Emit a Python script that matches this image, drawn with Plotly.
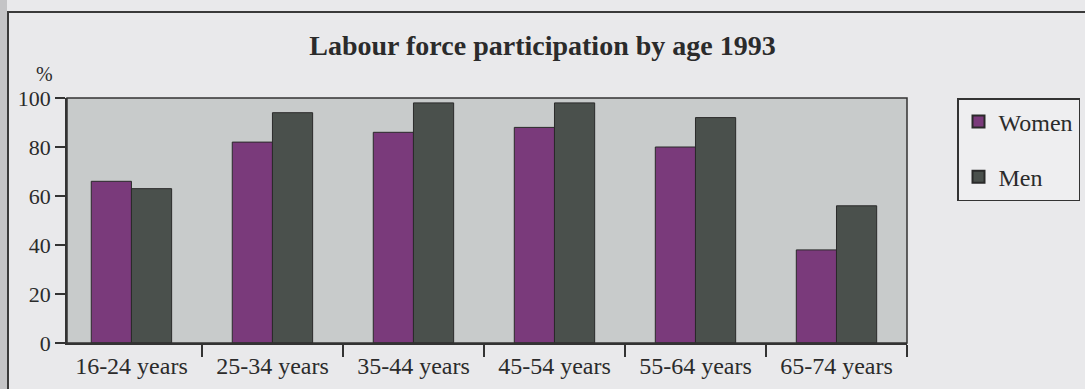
import plotly.graph_objects as go

categories = ["16-24 years", "25-34 years", "35-44 years", "45-54 years", "55-64 years", "65-74 years"]
women = [66, 82, 86, 88, 80, 38]
men = [63, 94, 98, 98, 92, 56]
y_ticks = [0, 20, 40, 60, 80, 100]

FONT = "Liberation Serif"
W, H = 1085, 389
L, R, T, B = 67, 178, 98, 46
PW, PH = W - L - R, H - T - B

fig = go.Figure()
fig.add_trace(go.Bar(x=categories, y=women, name="Women", legendgroup="w",
                     marker=dict(color="#7a3a7b", line=dict(color="#2a2a2a", width=1))))
fig.add_trace(go.Bar(x=categories, y=men, name="Men", legendgroup="m",
                     marker=dict(color="#4a504c", line=dict(color="#2a2a2a", width=1))))

fig.update_layout(
    width=W, height=H,
    margin=dict(l=L, r=R, t=T, b=B, autoexpand=False),
    paper_bgcolor="#e9e9eb",
    plot_bgcolor="#c8cbcb",
    font=dict(family=FONT, size=22, color="#2b2b2b"),
    barmode="group", bargap=0.43, bargroupgap=0,
    title=dict(text="<b>Labour force participation by age 1993</b>", x=0.5, xanchor="center",
               y=1 - 45 / H, yanchor="middle", yref="container",
               font=dict(family=FONT, size=28, color="#2b2b2b")),
    showlegend=True,
    legend=dict(x=(957 - L) / PW, xanchor="left", y=1.0, yanchor="top",
                bgcolor="#eeeef0", bordercolor="#333333", borderwidth=1.5,
                font=dict(family=FONT, size=24, color="#2b2b2b"),
                tracegroupgap=21, traceorder="grouped", itemsizing="constant",
                itemwidth=30),
    xaxis=dict(range=[-0.457, 5.5], showgrid=False, showline=True, linecolor="#333333", linewidth=1.5,
               ticks="outside", tickson="boundaries", ticklen=12, tickcolor="#333333",
               tickwidth=1.5, mirror=False, tickfont=dict(size=24)),
    yaxis=dict(range=[0, 100], tickvals=y_ticks, showgrid=False, showline=True,
               linecolor="#333333", linewidth=1.5, ticks="outside", ticklen=10,
               tickcolor="#333333", tickwidth=1.5, zeroline=False, tickfont=dict(size=22)),
)

# plot frame top/right
fig.add_shape(type="rect", xref="paper", yref="paper", x0=0, x1=1, y0=0, y1=1,
              line=dict(color="#333333", width=1.5), fillcolor="rgba(0,0,0,0)", layer="above")
# outer photo frame
fig.add_shape(type="rect", xref="paper", yref="paper",
              x0=(8 - L) / PW, x1=1.4, y0=-0.5, y1=1 + (T - 12) / PH,
              line=dict(color="#3a3a3a", width=2), fillcolor="rgba(0,0,0,0)", layer="below")
fig.add_shape(type="rect", xref="paper", yref="paper",
              x0=(0 - L) / PW, x1=(7 - L) / PW, y0=-0.5, y1=1.6,
              line=dict(width=0), fillcolor="#c4c4c6", layer="below")
fig.add_annotation(text="%", xref="paper", yref="paper", x=(44 - L) / PW,
                   y=1 + (T - 74) / PH, showarrow=False, xanchor="center", yanchor="middle",
                   font=dict(family=FONT, size=20, color="#2b2b2b"))

fig.write_html("out.html")
